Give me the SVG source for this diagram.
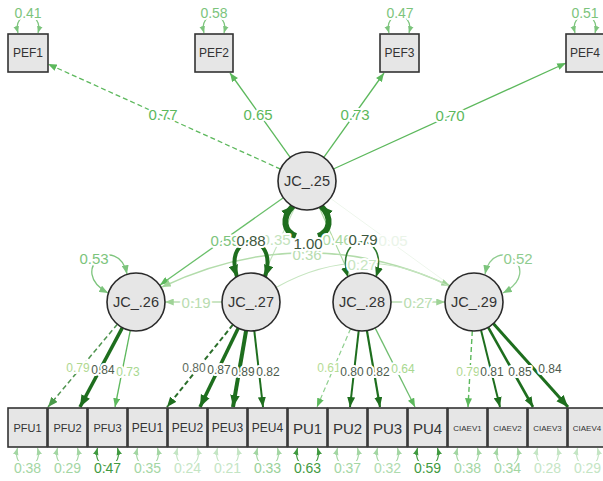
<svg xmlns="http://www.w3.org/2000/svg" width="603" height="481" viewBox="0 0 603 481">
<defs>
<style>
text{font-family:"Liberation Sans",Arial,sans-serif;text-anchor:middle;dominant-baseline:central}
.box{fill:#e6e6e6;stroke:#333;stroke-width:1.6}
.lat{fill:#e6e6e6;stroke:#2a2a2a;stroke-width:1.6}
.nt{fill:#333}
.f11{font-size:11px}
.f12{font-size:12px}
.f15{font-size:15px}
.f8{font-size:8px}
.ct{fill:#333;font-size:14.5px}
.h{paint-order:stroke;stroke:#fff;stroke-width:4px;stroke-linejoin:round}
.e{fill:none}
.top{stroke:#5cb85c;stroke-width:1.3}
</style>
<marker id="mM" viewBox="0 0 10 8" refX="10" refY="4" markerWidth="9" markerHeight="7" markerUnits="userSpaceOnUse" orient="auto-start-reverse"><path d="M0,0L10,4L0,8z" fill="#5cb85c"/></marker>
<marker id="mD" viewBox="0 0 10 8" refX="10" refY="4" markerWidth="12" markerHeight="10" markerUnits="userSpaceOnUse" orient="auto-start-reverse"><path d="M0,0L10,4L0,8z" fill="#1e6e1e"/></marker>
<marker id="mD2" viewBox="0 0 10 8" refX="10" refY="4" markerWidth="10" markerHeight="8" markerUnits="userSpaceOnUse" orient="auto-start-reverse"><path d="M0,0L10,4L0,8z" fill="#1e6e1e"/></marker>
<marker id="mMd" viewBox="0 0 10 8" refX="10" refY="4" markerWidth="10" markerHeight="8" markerUnits="userSpaceOnUse" orient="auto-start-reverse"><path d="M0,0L10,4L0,8z" fill="#4a9a4a"/></marker>
<marker id="mL" viewBox="0 0 10 8" refX="10" refY="4" markerWidth="9" markerHeight="7" markerUnits="userSpaceOnUse" orient="auto-start-reverse"><path d="M0,0L10,4L0,8z" fill="#9fd397"/></marker>
<marker id="mLc" viewBox="0 0 10 8" refX="10" refY="4" markerWidth="9" markerHeight="7" markerUnits="userSpaceOnUse" orient="auto-start-reverse"><path d="M0,0L10,4L0,8z" fill="#7cc47c"/></marker>
<marker id="rT" viewBox="0 0 10 8" refX="10" refY="4" markerWidth="7" markerHeight="6" markerUnits="userSpaceOnUse" orient="auto-start-reverse"><path d="M0,0L10,4L0,8z" fill="#7cc47c"/></marker>
<marker id="rL" viewBox="0 0 10 8" refX="10" refY="4" markerWidth="7" markerHeight="6" markerUnits="userSpaceOnUse" orient="auto-start-reverse"><path d="M0,0L10,4L0,8z" fill="#a3d6a3"/></marker>
<marker id="rV" viewBox="0 0 10 8" refX="10" refY="4" markerWidth="7" markerHeight="6" markerUnits="userSpaceOnUse" orient="auto-start-reverse"><path d="M0,0L10,4L0,8z" fill="#c4e5c4"/></marker>
<marker id="rD" viewBox="0 0 10 8" refX="10" refY="4" markerWidth="7" markerHeight="6" markerUnits="userSpaceOnUse" orient="auto-start-reverse"><path d="M0,0L10,4L0,8z" fill="#3f9a3f"/></marker>
</defs>
<rect width="603" height="481" fill="#fff"/>

<g id="connectors" class="e">
<!-- top loadings -->
<line class="top" x1="280.6" y1="169.1" x2="48" y2="64" stroke-dasharray="5,3" marker-end="url(#mM)"/>
<line class="top" x1="290.2" y1="157.4" x2="230" y2="73" marker-end="url(#mM)"/>
<line class="top" x1="323.8" y1="157.4" x2="384" y2="73" marker-end="url(#mM)"/>
<line class="top" x1="333.4" y1="169" x2="566" y2="63" marker-end="url(#mM)"/>
<!-- structural -->
<line x1="283" y1="198" x2="160" y2="285" stroke="#6abf6a" stroke-width="1.3" marker-end="url(#mM)"/>
<line x1="295" y1="207" x2="263" y2="276" stroke="#c2e3bc" stroke-width="1.1"/>
<line x1="319" y1="207" x2="350" y2="276" stroke="#a9d8a1" stroke-width="1.1"/>
<line x1="330" y1="198" x2="450" y2="285" stroke="#eef6ec" stroke-width="1"/>
<!-- covariance arcs -->
<path d="M162 287 Q306 219 450 286" stroke="#b3dcab" stroke-width="1.5" marker-start="url(#mL)" marker-end="url(#mL)"/>
<path d="M277 287 Q363 239 450 287" stroke="#c6e5c0" stroke-width="1.2"/>
<line x1="222" y1="302" x2="165" y2="302" stroke="#b8dcb0" stroke-width="1.3" marker-end="url(#mL)"/>
<line x1="391" y1="302" x2="445" y2="302" stroke="#b8dcb0" stroke-width="1.3" marker-end="url(#mL)"/>
<!-- latent variances -->
<path d="M127 274 C118 232 66 270 108 293" stroke="#7cc47c" stroke-width="1.3" marker-start="url(#mLc)" marker-end="url(#mLc)"/>
<path d="M485 274 C494 232 546 270 503 293" stroke="#8fcc8f" stroke-width="1.3" marker-start="url(#mLc)" marker-end="url(#mLc)"/>
<path d="M237 277 C222 230 280 230 265 277" stroke="#1e6e1e" stroke-width="4" marker-start="url(#mD)" marker-end="url(#mD)"/>
<path d="M348 277 C333 230 391 230 376 277" stroke="#2f7a2f" stroke-width="1.6" marker-start="url(#mD2)" marker-end="url(#mD2)"/>
<path d="M293 206 C281 218 284 232 296 236" stroke="#1e6e1e" stroke-width="6" marker-start="url(#mD)"/>
<path d="M321 206 C333 218 330 232 318 236" stroke="#1e6e1e" stroke-width="6" marker-start="url(#mD)"/>
<!-- indicator loadings -->
<line x1="117.4" y1="324.2" x2="48" y2="407" stroke="#4f944f" stroke-width="1.5" stroke-dasharray="5,3" marker-end="url(#mMd)"/>
<line x1="122.4" y1="327.6" x2="80" y2="407" stroke="#1e6e1e" stroke-width="3.5" marker-end="url(#mD)"/>
<line x1="130.3" y1="330.4" x2="115" y2="407" stroke="#5cb85c" stroke-width="1.3" marker-end="url(#mM)"/>
<line x1="232.9" y1="324.6" x2="167" y2="407" stroke="#2a6e2a" stroke-width="2" stroke-dasharray="5,3" marker-end="url(#mD2)"/>
<line x1="238.3" y1="328.1" x2="200" y2="407" stroke="#1e6e1e" stroke-width="3.5" marker-end="url(#mD)"/>
<line x1="246.1" y1="330.6" x2="233" y2="407" stroke="#1e6e1e" stroke-width="4" marker-end="url(#mD)"/>
<line x1="254.3" y1="330.8" x2="263" y2="407" stroke="#1e6e1e" stroke-width="2" marker-end="url(#mD2)"/>
<line x1="350.6" y1="328.7" x2="317" y2="407" stroke="#8fcf8f" stroke-width="1.2" stroke-dasharray="5,3" marker-end="url(#mM)"/>
<line x1="358.7" y1="330.8" x2="350" y2="407" stroke="#1e6e1e" stroke-width="2" marker-end="url(#mD2)"/>
<line x1="366.9" y1="330.6" x2="380" y2="407" stroke="#1e6e1e" stroke-width="2.2" marker-end="url(#mD2)"/>
<line x1="375.1" y1="327.9" x2="415" y2="407" stroke="#6fbd6f" stroke-width="1.3" marker-end="url(#mM)"/>
<line x1="472.3" y1="331" x2="468" y2="407" stroke="#5cb85c" stroke-width="1.4" stroke-dasharray="5,3" marker-end="url(#mM)"/>
<line x1="481" y1="330.1" x2="500" y2="407" stroke="#1e6e1e" stroke-width="2" marker-end="url(#mD2)"/>
<line x1="488.2" y1="327.3" x2="533" y2="407" stroke="#1e6e1e" stroke-width="2.6" marker-end="url(#mD2)"/>
<line x1="493.3" y1="323.6" x2="568" y2="407" stroke="#1e6e1e" stroke-width="3" marker-end="url(#mD)"/>
<!-- top residuals -->
<g stroke="#7cc47c" stroke-width="1.2">
<path d="M18 33 C12 10 44 10 38 33" marker-start="url(#rT)" marker-end="url(#rT)"/>
<path d="M204 33 C198 10 230 10 224 33" marker-start="url(#rT)" marker-end="url(#rT)"/>
<path d="M389 33 C383 10 415 10 409 33" marker-start="url(#rT)" marker-end="url(#rT)"/>
<path d="M575 33 C569 10 601 10 595 33" marker-start="url(#rT)" marker-end="url(#rT)"/>
</g>
<!-- bottom residuals -->
<g stroke-width="1.2">
<path d="M17.5 448 C11 472 44 472 37.5 448" stroke="#a3d6a3" marker-start="url(#rL)" marker-end="url(#rL)"/>
<path d="M57.5 448 C51 472 84 472 77.5 448" stroke="#a3d6a3" marker-start="url(#rL)" marker-end="url(#rL)"/>
<path d="M97.5 448 C91 472 124 472 117.5 448" stroke="#3f9a3f" marker-start="url(#rD)" marker-end="url(#rD)"/>
<path d="M137.5 448 C131 472 164 472 157.5 448" stroke="#a3d6a3" marker-start="url(#rL)" marker-end="url(#rL)"/>
<path d="M177.5 448 C171 472 204 472 197.5 448" stroke="#c4e5c4" marker-start="url(#rV)" marker-end="url(#rV)"/>
<path d="M217.5 448 C211 472 244 472 237.5 448" stroke="#c4e5c4" marker-start="url(#rV)" marker-end="url(#rV)"/>
<path d="M257.5 448 C251 472 284 472 277.5 448" stroke="#a3d6a3" marker-start="url(#rL)" marker-end="url(#rL)"/>
<path d="M297.5 448 C291 472 324 472 317.5 448" stroke="#3f9a3f" marker-start="url(#rD)" marker-end="url(#rD)"/>
<path d="M337.5 448 C331 472 364 472 357.5 448" stroke="#a3d6a3" marker-start="url(#rL)" marker-end="url(#rL)"/>
<path d="M377.5 448 C371 472 404 472 397.5 448" stroke="#a3d6a3" marker-start="url(#rL)" marker-end="url(#rL)"/>
<path d="M417.5 448 C411 472 444 472 437.5 448" stroke="#3f9a3f" marker-start="url(#rD)" marker-end="url(#rD)"/>
<path d="M457.5 448 C451 472 484 472 477.5 448" stroke="#a3d6a3" marker-start="url(#rL)" marker-end="url(#rL)"/>
<path d="M497.5 448 C491 472 524 472 517.5 448" stroke="#a3d6a3" marker-start="url(#rL)" marker-end="url(#rL)"/>
<path d="M537.5 448 C531 472 564 472 557.5 448" stroke="#c4e5c4" marker-start="url(#rV)" marker-end="url(#rV)"/>
<path d="M577.5 448 C571 472 604 472 597.5 448" stroke="#c4e5c4" marker-start="url(#rV)" marker-end="url(#rV)"/>
</g>
<!-- labels -->
<g class="h" font-size="15px">
<text x="163" y="114" fill="#5cb85c">0.77</text>
<text x="258" y="114" fill="#5cb85c">0.65</text>
<text x="355" y="114" fill="#5cb85c">0.73</text>
<text x="450" y="115" fill="#5cb85c">0.70</text>
<text x="307" y="254" fill="#b8dcb0">0.36</text>
<text x="362" y="264" fill="#c6e5c0">0.27</text>
<text x="225" y="240" fill="#7cc47c">0.59</text>
<text x="276" y="239" fill="#c2e3bc">0.35</text>
<text x="337" y="239" fill="#a9d8a1">0.46</text>
<text x="393" y="240" fill="#eaf4e8">0.05</text>
<text x="251" y="240" fill="#3d573d">0.88</text>
<text x="308" y="243" fill="#3d573d">1.00</text>
<text x="363" y="239" fill="#3d573d">0.79</text>
<text x="94" y="258" fill="#7cc47c">0.53</text>
<text x="518" y="258" fill="#8fcc8f">0.52</text>
<text x="196" y="302" fill="#b8dcb0">0.19</text>
<text x="418" y="302" fill="#b8dcb0">0.27</text>
</g>
<g class="h" font-size="12px">
<text x="78" y="368" fill="#b0d890">0.79</text>
<text x="103" y="370" fill="#4d5b4d">0.84</text>
<text x="128" y="372" fill="#a8d890">0.73</text>
<text x="194" y="368" fill="#5d6b5d">0.80</text>
<text x="219" y="370" fill="#4d5b4d">0.87</text>
<text x="243" y="372" fill="#4d5b4d">0.89</text>
<text x="268" y="372" fill="#4d5b4d">0.82</text>
<text x="329" y="368" fill="#b5dc95">0.61</text>
<text x="352" y="372" fill="#4d5b4d">0.80</text>
<text x="378" y="372" fill="#4d5b4d">0.82</text>
<text x="403" y="369" fill="#a8d890">0.64</text>
<text x="468" y="372" fill="#b0d890">0.79</text>
<text x="492" y="372" fill="#4d5b4d">0.81</text>
<text x="520" y="372" fill="#4d5b4d">0.85</text>
<text x="550" y="369" fill="#4d5b4d">0.84</text>
</g>
<g class="h" font-size="14px">
<text x="28" y="13" fill="#7cc47c">0.41</text>
<text x="214" y="13" fill="#7cc47c">0.58</text>
<text x="400" y="13" fill="#7cc47c">0.47</text>
<text x="585" y="13" fill="#7cc47c">0.51</text>
<text x="27.5" y="468" fill="#a3d6a3">0.38</text>
<text x="67.5" y="468" fill="#a3d6a3">0.29</text>
<text x="107.5" y="468" fill="#3f9a3f">0.47</text>
<text x="147.5" y="468" fill="#a3d6a3">0.35</text>
<text x="187.5" y="468" fill="#c4e5c4">0.24</text>
<text x="227.5" y="468" fill="#c4e5c4">0.21</text>
<text x="267.5" y="468" fill="#99d199">0.33</text>
<text x="307.5" y="468" fill="#3f9a3f">0.63</text>
<text x="347.5" y="468" fill="#a3d6a3">0.37</text>
<text x="387.5" y="468" fill="#aedbae">0.32</text>
<text x="427.5" y="468" fill="#3f9a3f">0.59</text>
<text x="467.5" y="468" fill="#a3d6a3">0.38</text>
<text x="507.5" y="468" fill="#a3d6a3">0.34</text>
<text x="547.5" y="468" fill="#c4e5c4">0.28</text>
<text x="587.5" y="468" fill="#c4e5c4">0.29</text>
</g>
</g>

<g id="PEF1"><rect class="box" x="8" y="34" width="40" height="38"/><text class="nt f12" x="28" y="53">PEF1</text></g>
<g id="PEF2"><rect class="box" x="195" y="34" width="38" height="38"/><text class="nt f12" x="214" y="53">PEF2</text></g>
<g id="PEF3"><rect class="box" x="380" y="34" width="39" height="38"/><text class="nt f12" x="399.5" y="53">PEF3</text></g>
<g id="PEF4"><rect class="box" x="566" y="34" width="39" height="38"/><text class="nt f12" x="585" y="53">PEF4</text></g>

<g id="JC_25"><circle class="lat" cx="307" cy="181" r="29"/><text class="ct" x="307" y="181">JC_.25</text></g>
<g id="JC_26"><circle class="lat" cx="136" cy="302" r="29"/><text class="ct" x="136" y="302">JC_.26</text></g>
<g id="JC_27"><circle class="lat" cx="251" cy="302" r="29"/><text class="ct" x="251" y="302">JC_.27</text></g>
<g id="JC_28"><circle class="lat" cx="362" cy="302" r="29"/><text class="ct" x="362" y="302">JC_.28</text></g>
<g id="JC_29"><circle class="lat" cx="474" cy="302" r="29"/><text class="ct" x="474" y="302">JC_.29</text></g>

<g id="PFU1"><rect class="box" x="8" y="408" width="39" height="39"/><text class="nt f11" x="27.5" y="428">PFU1</text></g>
<g id="PFU2"><rect class="box" x="48" y="408" width="39" height="39"/><text class="nt f11" x="67.5" y="428">PFU2</text></g>
<g id="PFU3"><rect class="box" x="88" y="408" width="39" height="39"/><text class="nt f11" x="107.5" y="428">PFU3</text></g>
<g id="PEU1"><rect class="box" x="128" y="408" width="39" height="39"/><text class="nt f12" x="147.5" y="428">PEU1</text></g>
<g id="PEU2"><rect class="box" x="168" y="408" width="39" height="39"/><text class="nt f12" x="187.5" y="428">PEU2</text></g>
<g id="PEU3"><rect class="box" x="208" y="408" width="39" height="39"/><text class="nt f12" x="227.5" y="428">PEU3</text></g>
<g id="PEU4"><rect class="box" x="248" y="408" width="39" height="39"/><text class="nt f12" x="267.5" y="428">PEU4</text></g>
<g id="PU1"><rect class="box" x="288" y="408" width="39" height="39"/><text class="nt f15" x="307.5" y="428">PU1</text></g>
<g id="PU2"><rect class="box" x="328" y="408" width="39" height="39"/><text class="nt f15" x="347.5" y="428">PU2</text></g>
<g id="PU3"><rect class="box" x="368" y="408" width="39" height="39"/><text class="nt f15" x="387.5" y="428">PU3</text></g>
<g id="PU4"><rect class="box" x="408" y="408" width="39" height="39"/><text class="nt f15" x="427.5" y="428">PU4</text></g>
<g id="CIAEV1"><rect class="box" x="448" y="408" width="39" height="39"/><text class="nt f8" x="467.5" y="428">CIAEV1</text></g>
<g id="CIAEV2"><rect class="box" x="488" y="408" width="39" height="39"/><text class="nt f8" x="507.5" y="428">CIAEV2</text></g>
<g id="CIAEV3"><rect class="box" x="528" y="408" width="39" height="39"/><text class="nt f8" x="547.5" y="428">CIAEV3</text></g>
<g id="CIAEV4"><rect class="box" x="568" y="408" width="39" height="39"/><text class="nt f8" x="587" y="428">CIAEV4</text></g>
</svg>
